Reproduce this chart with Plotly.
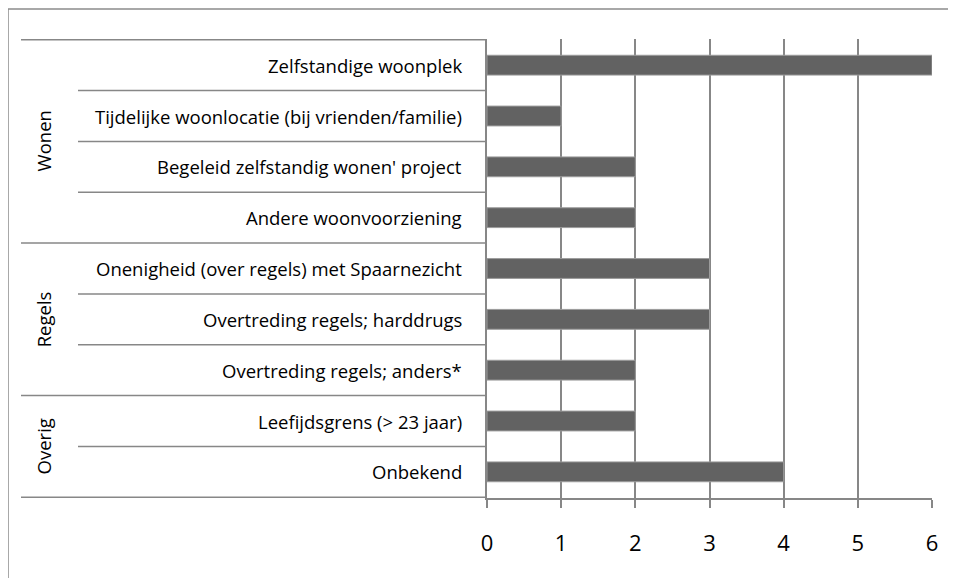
import plotly.graph_objects as go

groups = ["Wonen", "Regels", "Overig"]
group_sizes = [4, 3, 2]
categories = [
    "Zelfstandige woonplek",
    "Tijdelijke woonlocatie (bij vrienden/familie)",
    "Begeleid zelfstandig wonen' project",
    "Andere woonvoorziening",
    "Onenigheid (over regels) met Spaarnezicht",
    "Overtreding regels; harddrugs",
    "Overtreding regels; anders*",
    "Leefijdsgrens (> 23 jaar)",
    "Onbekend",
]
values = [6, 1, 2, 2, 3, 3, 2, 2, 4]
x_ticks = [0, 1, 2, 3, 4, 5, 6]

OFF = 8  # page body margin
W, H = 956 - OFF, 578 - OFF
L, R, T, B = 487 - OFF, 24, 39 - OFF, 80
pw = W - L - R
ph = H - T - B

def px_x(p):
    return (p - OFF - L) / pw

def px_y(p):
    return (H - B - (p - OFF)) / ph

FONT = "Open Sans"
GRID = "#878787"

fig = go.Figure(go.Bar(
    x=values, y=categories, orientation="h",
    width=0.39,
    marker=dict(color="#626262", line=dict(color="#9c9c9c", width=1)),
))

shapes = []
n = len(categories)
group_bounds = [0]
for s in group_sizes:
    group_bounds.append(group_bounds[-1] + s)
for i in range(n + 1):
    x0 = px_x(21) if i in group_bounds else px_x(78)
    shapes.append(dict(type="line", xref="paper", yref="y", x0=x0, x1=0,
                       y0=i - 0.5, y1=i - 0.5, line=dict(color=GRID, width=1.5)))
shapes.append(dict(type="rect", xref="paper", yref="paper",
                   x0=px_x(8), x1=px_x(956 + 20), y0=px_y(578 + 20), y1=px_y(9),
                   line=dict(color="#8c8c8c", width=1.5), layer="below"))

annotations = []
for c in categories:
    annotations.append(dict(x=0, xref="paper", y=c, yref="y", text=c,
                            showarrow=False, xanchor="right", xshift=-23,
                            font=dict(family=FONT, size=18.5, color="#000")))
start = 0
for g, s in zip(groups, group_sizes):
    annotations.append(dict(x=px_x(43), xref="paper", xanchor="center",
                            y=start + (s - 1) / 2, yref="y", yanchor="middle",
                            text=g, showarrow=False, textangle=-90,
                            font=dict(family=FONT, size=18.5, color="#000")))
    start += s

fig.update_layout(
    width=W, height=H,
    margin=dict(l=L, r=R, t=T, b=B),
    paper_bgcolor="white", plot_bgcolor="white",
    showlegend=False,
    shapes=shapes, annotations=annotations,
    xaxis=dict(range=[0, 6], tickvals=x_ticks, showgrid=True, gridcolor=GRID,
               gridwidth=1.5, zeroline=False, showline=True, linecolor=GRID,
               linewidth=1.5, ticks="outside", ticklen=8, tickcolor=GRID,
               tickwidth=1.5, tickfont=dict(family=FONT, size=22, color="#000"),
               ticklabelstandoff=17, fixedrange=True),
    yaxis=dict(categoryorder="array", categoryarray=categories,
               autorange="reversed", showticklabels=False, showgrid=False,
               zeroline=False, showline=True, linecolor=GRID, linewidth=1.5,
               ticks="", fixedrange=True),
)

fig.write_html("out.html")
